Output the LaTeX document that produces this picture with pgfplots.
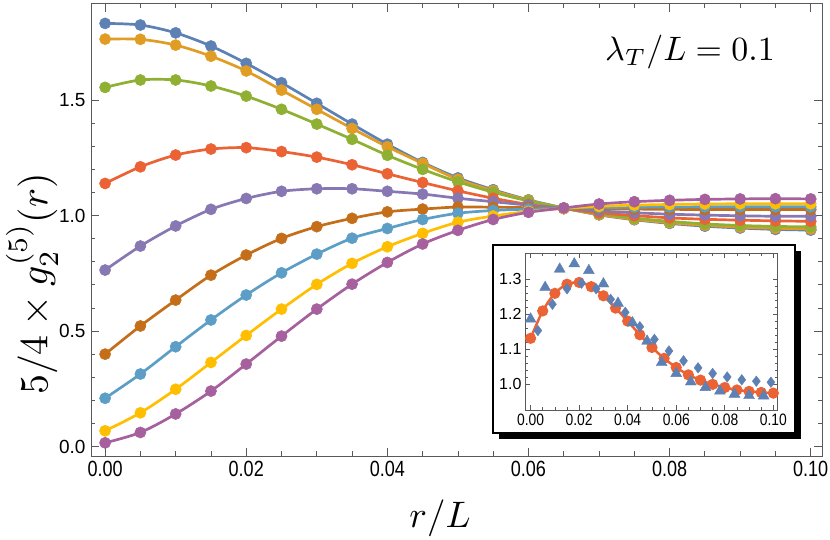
\documentclass[border=0pt]{standalone}
\usepackage{pgfplots}
\pgfplotsset{compat=1.18}
\usepackage{pgfplotstable}
\usepackage{graphicx}
\usepackage{fontspec}
\newfontfamily\xtickfont{Liberation Sans}[FakeStretch=0.82]
\newfontfamily\ytickfont{Liberation Sans}
\newfontfamily\insetxfont{Liberation Sans}[FakeStretch=0.84]
\definecolor{c1}{RGB}{94,129,181}
\definecolor{c2}{RGB}{225,156,36}
\definecolor{c3}{RGB}{143,176,50}
\definecolor{c4}{RGB}{235,98,53}
\definecolor{c5}{RGB}{135,120,179}
\definecolor{c6}{RGB}{197,110,26}
\definecolor{c7}{RGB}{93,158,199}
\definecolor{c8}{RGB}{255,191,0}
\definecolor{c9}{RGB}{165,96,157}
\definecolor{framegray}{gray}{0.35}

\pgfplotstableread{
x s1 s2 s3 s4 s5 s6 s7 s8 s9
0.000 1.832 1.764 1.555 1.139 0.764 0.400 0.209 0.068 0.016
0.005 1.825 1.763 1.587 1.211 0.868 0.522 0.314 0.146 0.061
0.010 1.791 1.738 1.587 1.262 0.955 0.634 0.432 0.248 0.141
0.015 1.734 1.690 1.561 1.288 1.027 0.742 0.548 0.364 0.240
0.020 1.659 1.626 1.517 1.294 1.074 0.829 0.656 0.481 0.357
0.025 1.575 1.543 1.460 1.277 1.105 0.901 0.752 0.595 0.478
0.030 1.486 1.460 1.396 1.253 1.116 0.952 0.833 0.702 0.595
0.035 1.396 1.377 1.330 1.220 1.116 0.988 0.902 0.793 0.703
0.040 1.309 1.298 1.261 1.181 1.105 1.016 0.944 0.865 0.797
0.045 1.230 1.226 1.200 1.143 1.093 1.028 0.983 0.923 0.877
0.050 1.163 1.157 1.146 1.107 1.075 1.037 1.010 0.971 0.936
0.055 1.112 1.108 1.101 1.075 1.060 1.036 1.022 0.998 0.983
0.060 1.068 1.066 1.063 1.048 1.045 1.034 1.028 1.018 1.014
0.065 1.033 1.032 1.032 1.030 1.031 1.031 1.031 1.031 1.033
0.070 1.003 1.004 1.008 1.012 1.020 1.029 1.034 1.040 1.050
0.075 0.982 0.984 0.989 1.000 1.012 1.028 1.036 1.045 1.060
0.080 0.966 0.969 0.975 0.990 1.006 1.027 1.037 1.048 1.066
0.085 0.954 0.958 0.964 0.984 1.002 1.026 1.038 1.050 1.070
0.090 0.946 0.950 0.957 0.980 0.999 1.026 1.038 1.051 1.072
0.095 0.940 0.945 0.953 0.977 0.997 1.026 1.038 1.051 1.073
0.100 0.937 0.942 0.951 0.975 0.997 1.026 1.038 1.051 1.072
}\maindata

\pgfplotstableread{
x y
0.000 1.131
0.005 1.209
0.010 1.259
0.015 1.285
0.020 1.290
0.025 1.278
0.030 1.252
0.035 1.217
0.040 1.180
0.045 1.141
0.050 1.105
0.055 1.074
0.060 1.048
0.065 1.027
0.070 1.012
0.075 1.000
0.080 0.991
0.085 0.984
0.090 0.980
0.095 0.977
0.100 0.975
}\insetred

\pgfplotstableread{
x y
0.000 1.186
0.006 1.276
0.012 1.328
0.018 1.343
0.024 1.324
0.030 1.286
0.036 1.231
0.042 1.175
0.048 1.123
0.054 1.062
0.060 1.031
0.066 1.007
0.072 0.991
0.078 0.981
0.084 0.972
0.090 0.968
0.096 0.967
}\insettri

\pgfplotstableread{
x y
0.003 1.153
0.009 1.228
0.015 1.272
0.021 1.288
0.027 1.272
0.033 1.242
0.039 1.205
0.045 1.164
0.051 1.128
0.057 1.095
0.063 1.067
0.069 1.047
0.075 1.031
0.081 1.021
0.087 1.013
0.093 1.009
0.099 1.006
}\insetdia

\begin{document}
\begin{tikzpicture}
\begin{axis}[
  at={(91bp,84bp)}, anchor=south west,
  scale only axis, width=731bp, height=452bp,
  xmin=-0.002, xmax=0.1016, ymin=-0.041, ymax=1.916,
  xtick={0,0.02,0.04,0.06,0.08,0.1},
  ytick={0,0.5,1,1.5},
  minor x tick num=3, minor y tick num=4,
  tick align=inside,
  major tick length=8bp, minor tick length=4.5bp,
  axis line style={framegray, line width=1bp},
  every tick/.style={framegray, line width=0.8bp},
  scaled x ticks=false, scaled y ticks=false,
  xticklabel style={font=\xtickfont\fontsize{22bp}{22bp}\selectfont, yshift=-2bp, /pgf/number format/.cd, fixed, fixed zerofill, precision=2},
  yticklabel style={font=\ytickfont\fontsize{19bp}{19bp}\selectfont, xshift=-2bp, /pgf/number format/.cd, fixed, fixed zerofill, precision=1},
  /pgf/number format/assume math mode=true,
]
\addplot[c1, line width=2.7bp, smooth, mark=*, mark size=5.6bp, mark options={solid, fill=c1, line width=0.5bp}] table[x=x,y=s1]{\maindata};
\addplot[c2, line width=2.7bp, smooth, mark=*, mark size=5.6bp, mark options={solid, fill=c2, line width=0.5bp}] table[x=x,y=s2]{\maindata};
\addplot[c3, line width=2.7bp, smooth, mark=*, mark size=5.6bp, mark options={solid, fill=c3, line width=0.5bp}] table[x=x,y=s3]{\maindata};
\addplot[c4, line width=2.7bp, smooth, mark=*, mark size=5.6bp, mark options={solid, fill=c4, line width=0.5bp}] table[x=x,y=s4]{\maindata};
\addplot[c5, line width=2.7bp, smooth, mark=*, mark size=5.6bp, mark options={solid, fill=c5, line width=0.5bp}] table[x=x,y=s5]{\maindata};
\addplot[c6, line width=2.7bp, smooth, mark=*, mark size=5.6bp, mark options={solid, fill=c6, line width=0.5bp}] table[x=x,y=s6]{\maindata};
\addplot[c7, line width=2.7bp, smooth, mark=*, mark size=5.6bp, mark options={solid, fill=c7, line width=0.5bp}] table[x=x,y=s7]{\maindata};
\addplot[c8, line width=2.7bp, smooth, mark=*, mark size=5.6bp, mark options={solid, fill=c8, line width=0.5bp}] table[x=x,y=s8]{\maindata};
\addplot[c9, line width=2.7bp, smooth, mark=*, mark size=5.6bp, mark options={solid, fill=c9, line width=0.5bp}] table[x=x,y=s9]{\maindata};
\end{axis}

\node[rotate=90] at (32bp,256bp) {\scalebox{4.0}{$5/4\times g_2^{(5)}(r)$}};
\node at (440bp,22bp) {\scalebox{3.7}{$r/L$}};
\node at (690bp,488bp) {\scalebox{3.4}{$\lambda_T/L = 0.1$}};

% inset box with shadow
\fill[black] (499bp,101bp) rectangle (801bp,289bp);
\filldraw[fill=white, draw=black, line width=1.5bp] (493bp,107bp) rectangle (795bp,295bp);

\begin{axis}[
  at={(525bp,130bp)}, anchor=south west,
  scale only axis, width=252.7bp, height=156.7bp,
  xmin=-0.0023, xmax=0.1018, ymin=0.927, ymax=1.373,
  xtick={0,0.02,0.04,0.06,0.08,0.1},
  ytick={1.0,1.1,1.2,1.3},
  minor x tick num=3, minor y tick num=4,
  tick align=inside,
  major tick length=5bp, minor tick length=3bp,
  axis line style={framegray, line width=0.8bp},
  every tick/.style={framegray, line width=0.6bp},
  scaled x ticks=false, scaled y ticks=false,
  xticklabel style={font=\insetxfont\fontsize{16.5bp}{16.5bp}\selectfont, /pgf/number format/.cd, fixed, fixed zerofill, precision=2},
  yticklabel style={font=\ytickfont\fontsize{16bp}{16bp}\selectfont, /pgf/number format/.cd, fixed, fixed zerofill, precision=1},
  /pgf/number format/assume math mode=true,
]
\addplot[c4, line width=2.5bp, smooth, mark=*, mark size=4.3bp, mark options={solid, fill=c4}] table[x=x,y=y]{\insetred};
\addplot[only marks, mark=triangle*, mark size=6.3bp, c1, mark options={fill=c1, draw=c1}] table[x=x,y=y]{\insettri};
\addplot[only marks, mark=diamond*, mark size=5.3bp, c1, mark options={fill=c1, draw=c1}] table[x=x,y=y]{\insetdia};
\end{axis}

\pgfresetboundingbox
\path[use as bounding box] (0,0) rectangle (830bp,540bp);
\end{tikzpicture}
\end{document}
